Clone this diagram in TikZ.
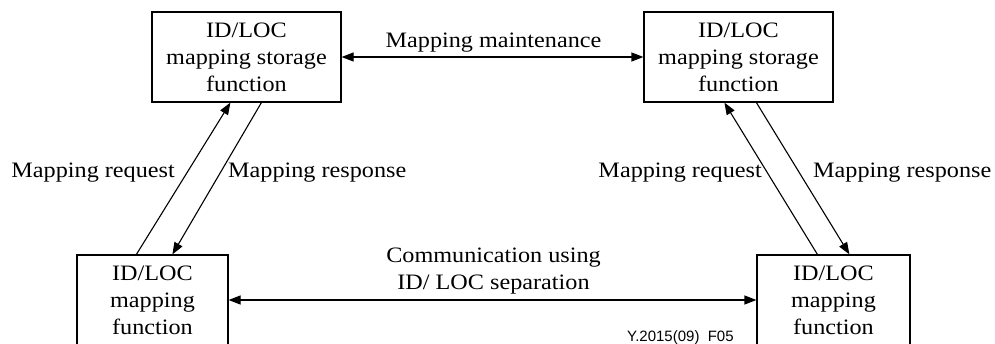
\documentclass[tikz,border=0pt]{standalone}
\usepackage{fontspec}
\setmainfont[FakeStretch=1.1]{Liberation Serif}
\newfontfamily\figsans{Liberation Sans}
\usetikzlibrary{arrows.meta,calc}
\tikzset{
  fbox/.style={draw, line width=1.2pt, rectangle, minimum height=90pt, align=center,
    font=\fontsize{22}{27}\selectfont, inner sep=0pt},
  lbl/.style={font=\fontsize{22}{27}\selectfont, inner sep=0pt, align=center},
  conn/.style={line width=1.1pt, -{Triangle[length=12pt,width=9pt]}},
  dconn/.style={line width=1.2pt, {Triangle[length=12pt,width=9pt]}-{Triangle[length=12pt,width=9pt]}},
}
\begin{document}
\begin{tikzpicture}[x=1pt,y=-1pt]
\useasboundingbox (0,0) rectangle (995,343);
\clip (0,0) rectangle (995,343);
\node[fbox, minimum width=189pt] (tl) at (246.5,57) {ID/LOC\\mapping storage\\function};
\node[fbox, minimum width=189pt] (tr) at (738.5,57) {ID/LOC\\mapping storage\\function};
\node[fbox, minimum width=151pt] (bl) at (152.5,300) {ID/LOC\\mapping\\function};
\node[fbox, minimum width=153pt] (br) at (833.5,300) {ID/LOC\\mapping\\function};

\draw[dconn] (tl.east) -- (tr.west);
\draw[dconn] (bl.east) -- (br.west);
\node[lbl, anchor=base] (mm) at (493.5,47) {Mapping maintenance};
\node[lbl, anchor=center] (cu) at (493.5,271) {Communication using\\ID/ LOC separation};

\draw[conn] ($(bl.north west)+(60,0)$) -- ($(tl.south west)+(79,0)$);
\draw[conn] ($(tl.south west)+(110,0)$) -- ($(bl.north west)+(96,0)$);
\draw[conn] ($(br.north west)+(61,0)$) -- ($(tr.south west)+(81,0)$);
\draw[conn] ($(tr.south west)+(113,0)$) -- ($(br.north west)+(93,0)$);

\node[lbl, anchor=base east] (lq) at (175,177) {Mapping request};
\node[lbl, anchor=base west] (lr) at (228,177) {Mapping response};
\node[lbl, anchor=base east] (rq) at (762,177) {Mapping request};
\node[lbl, anchor=base west] (rr) at (813,177) {Mapping response};

\node[anchor=base west, inner sep=0pt, font=\figsans\fontsize{15}{18}\selectfont] (fig) at (627,341) {Y.2015(09)\ \ F05};
\end{tikzpicture}
\end{document}
